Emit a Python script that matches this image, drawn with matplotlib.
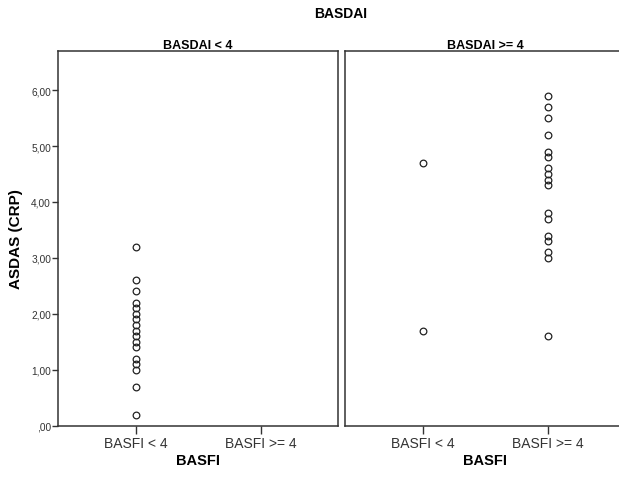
import matplotlib
matplotlib.use("Agg")
import matplotlib.pyplot as plt

plt.rcParams['font.family'] = ['Liberation Sans', 'DejaVu Sans']

categories = ["BASFI < 4", "BASFI >= 4"]
panels = ["BASDAI < 4", "BASDAI >= 4"]

# ASDAS (CRP) values per panel / BASFI group
low_basdai_low_basfi = [3.2, 2.6, 2.4, 2.2, 2.1, 2.0, 1.9, 1.8, 1.7, 1.6, 1.5, 1.4,
                        1.2, 1.1, 1.0, 0.7, 0.2]
low_basdai_high_basfi = []
high_basdai_low_basfi = [4.7, 1.7]
high_basdai_high_basfi = [5.9, 5.7, 5.5, 5.2, 4.9, 4.8, 4.6, 4.5, 4.4, 4.3,
                          3.8, 3.7, 3.4, 3.3, 3.1, 3.0, 1.6]

yticks = [0, 1, 2, 3, 4, 5, 6]
ytick_labels = [",00", "1,00", "2,00", "3,00", "4,00", "5,00", "6,00"]

data = [[low_basdai_low_basfi, low_basdai_high_basfi],
        [high_basdai_low_basfi, high_basdai_high_basfi]]

fig = plt.figure(figsize=(6.19, 4.81), dpi=100)
lefts = [58 / 619, 345 / 619]
for i, title in enumerate(panels):
    ax = fig.add_axes([lefts[i], 54.3 / 481, 280 / 619, 374.7 / 481])
    for j, vals in enumerate(data[i]):
        ax.plot([j] * len(vals), vals, linestyle="none", marker="o", markersize=4.8,
                markerfacecolor="none", markeredgecolor="#222222", markeredgewidth=0.9)
    ax.set_xlim(-0.624, 1.616)
    ax.set_ylim(0, 6.70)
    ax.set_xticks([0, 1])
    ax.set_xticklabels(categories, fontsize=10, color="#333333")
    ax.tick_params(axis="x", length=6, width=1, color="#333333", pad=1.5)
    ax.set_xlabel("BASFI", fontsize=10.5, fontweight="bold", labelpad=2)
    ax.set_title(title, fontsize=9, fontweight="bold", pad=2.5)
    for s in ax.spines.values():
        s.set_linewidth(1.1)
        s.set_color("#333333")
    if i == 0:
        ax.set_yticks(yticks)
        ax.set_yticklabels(ytick_labels, fontsize=7.3, color="#333333")
        ax.tick_params(axis="y", length=4, width=1, color="#333333", pad=1)
        ax.set_ylabel("ASDAS (CRP)", fontsize=11, fontweight="bold", labelpad=6)
    else:
        ax.set_yticks([])

fig.text(341 / 619, 1 - 14 / 481, "BASDAI", ha="center", va="center",
         fontsize=10, fontweight="bold")

fig.savefig("out.png", dpi=100)
